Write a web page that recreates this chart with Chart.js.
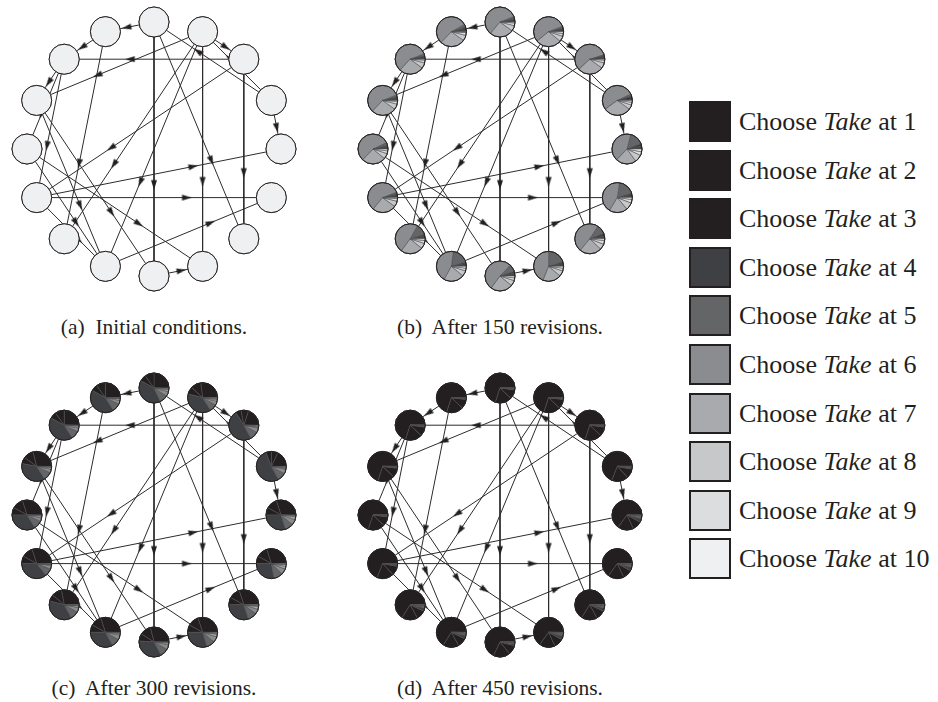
<!DOCTYPE html>
<html>
<head>
<meta charset="utf-8">
<script src="https://cdn.jsdelivr.net/npm/chart.js@4"></script>
<style>
  html, body { margin: 0; padding: 0; background: #fff; }
  #page { position: relative; width: 938px; height: 702px; overflow: hidden;
          font-family: "Liberation Serif", "Times New Roman", serif; color: #231f20; }
  .panel { position: absolute; width: 300px; height: 300px; }
  .cap { position: absolute; width: 346px; text-align: center; font-size: 21.5px;
         line-height: 26px; white-space: pre; }
  .leg { position: absolute; left: 689px; width: 249px; height: 42px; }
  .leg .sw { position: absolute; left: 0; top: 0; width: 38px; height: 37px; border: 2px solid #231f20; }
  .leg .tx { position: absolute; left: 50px; top: 0; height: 41px; line-height: 41px;
             font-size: 26px; white-space: nowrap; }
</style>
</head>
<body>
<div id="page">
  <canvas id="pa" class="panel" width="300" height="300" style="left:4px;top:-1px"></canvas>
  <canvas id="pb" class="panel" width="300" height="300" style="left:350px;top:-1px"></canvas>
  <canvas id="pc" class="panel" width="300" height="300" style="left:4px;top:365px"></canvas>
  <canvas id="pd" class="panel" width="300" height="300" style="left:350px;top:365px"></canvas>
</div>
<script>
// ---- network: 16 players on a ring, directed "who imitates whom" links ----
const playerCount = 16;
const linkFrom = [0, 15, 14, 2, 1, 0, 1, 2, 11, 3, 8, 0, 11, 9, 2, 1, 1, 1, 3, 14, 15, 13, 13, 12, 12, 11, 14, 3];
const linkTo   = [15, 14, 13, 14, 2, 8, 7, 6, 5, 4, 7, 6, 4, 5, 11, 13, 10, 9, 0, 11, 10, 9, 8, 7, 9, 9, 12, 1];

// ---- strategy labels: stage at which the player chooses Take ----
const takeStages = [1, 2, 3, 4, 5, 6, 7, 8, 9, 10];

// ---- strategy mix of every player (percent per stage 1..10) ----
const sharesInitial = [
  [0,0,0,0,0,0,0,0,0,100], [0,0,0,0,0,0,0,0,0,100], [0,0,0,0,0,0,0,0,0,100], [0,0,0,0,0,0,0,0,0,100],
  [0,0,0,0,0,0,0,0,0,100], [0,0,0,0,0,0,0,0,0,100], [0,0,0,0,0,0,0,0,0,100], [0,0,0,0,0,0,0,0,0,100],
  [0,0,0,0,0,0,0,0,0,100], [0,0,0,0,0,0,0,0,0,100], [0,0,0,0,0,0,0,0,0,100], [0,0,0,0,0,0,0,0,0,100],
  [0,0,0,0,0,0,0,0,0,100], [0,0,0,0,0,0,0,0,0,100], [0,0,0,0,0,0,0,0,0,100], [0,0,0,0,0,0,0,0,0,100]
];
const sharesAfter150 = [
  [1,1,1,1,2,58,26,6,3,1],
  [1,1,1,1,2,55,28,6,3,2],
  [1,1,1,1,1,57,28,6,3,1],
  [1,1,2,1,2,53,30,5,3,2],
  [1,1,1,3,15,42,22,8,4,3],
  [1,1,1,2,18,44,20,8,4,2],
  [1,1,1,3,10,48,24,6,4,2],
  [1,1,1,2,20,44,20,6,3,2],
  [1,1,1,2,8,52,24,6,3,2],
  [1,1,1,2,18,44,22,6,3,2],
  [1,1,1,2,12,48,24,6,3,2],
  [1,1,1,1,2,58,26,6,3,1],
  [1,1,1,1,3,56,26,6,3,2],
  [1,1,1,1,2,57,27,6,3,1],
  [1,1,1,1,2,57,27,6,3,1],
  [1,1,1,2,3,55,27,6,3,1]
];
const sharesAfter300 = [
  [25,10,7,40,9,5,2,1,0.5,0.5],
  [27,11,8,38,8,4,2,1,0.5,0.5],
  [20,8,6,49,9,5,1,1,0.5,0.5],
  [18,7,6,52,9,5,1,1,0.5,0.5],
  [30,12,8,30,9,6,3,1,0.5,0.5],
  [30,12,8,28,10,6,3,2,0.5,0.5],
  [30,12,8,30,10,5,3,1,0.5,0.5],
  [30,12,8,30,9,6,3,1,0.5,0.5],
  [29,12,8,34,9,5,2,0.5,0.25,0.25],
  [30,12,8,33,9,5,2,0.5,0.25,0.25],
  [28,11,7,37,9,5,2,0.5,0.25,0.25],
  [30,12,8,36,8,4,1,0.5,0.25,0.25],
  [30,12,8,34,9,4,2,0.5,0.25,0.25],
  [29,11,7,37,9,4,2,0.5,0.25,0.25],
  [25,10,7,42,9,4,2,0.5,0.25,0.25],
  [25,10,7,42,9,4,2,0.5,0.25,0.25]
];
const sharesAfter450 = [
  [70,18,10,1,0.5,0.3,0.1,0.05,0.03,0.02],
  [70,18,10,1,0.5,0.3,0.1,0.05,0.03,0.02],
  [70,18,10,1,0.5,0.3,0.1,0.05,0.03,0.02],
  [69,18,10,1.5,0.8,0.4,0.2,0.05,0.03,0.02],
  [65,17,10,4,2,1,0.6,0.2,0.1,0.1],
  [65,17,10,4,2,1,0.6,0.2,0.1,0.1],
  [66,17,10,3.5,1.8,0.9,0.5,0.1,0.1,0.1],
  [65,17,10,4,2,1,0.6,0.2,0.1,0.1],
  [68,18,10,2,1,0.5,0.3,0.1,0.05,0.05],
  [66,17,10,3.5,1.8,0.9,0.5,0.1,0.1,0.1],
  [66,17,10,3.5,1.8,0.9,0.5,0.1,0.1,0.1],
  [69,18,10,1.5,0.8,0.4,0.2,0.05,0.03,0.02],
  [70,18,10,1,0.5,0.3,0.1,0.05,0.03,0.02],
  [70,18,10,1,0.5,0.3,0.1,0.05,0.03,0.02],
  [70,18,10,1,0.5,0.3,0.1,0.05,0.03,0.02],
  [70,18,10,1,0.5,0.3,0.1,0.05,0.03,0.02]
];

// ---- styling ----
const stageColors = ['#231f20', '#231f20', '#231f20', '#3f4043', '#646567',
                     '#8b8c8f', '#a8aaad', '#c7c8ca', '#dcdddf', '#eff0f1'];
const INK = '#231f20';
const NODE_R = 15;          // node radius in px
const RING_PX = 127;        // ring radius in px
const CANVAS_HALF = 150;    // half size of each panel canvas
const HEAD_AT = 0.66;       // arrow tip position along each link
const SPAN = CANVAS_HALF / RING_PX;

const panels = [
  { id: 'pa', shares: sharesInitial,  caption: '(a)  Initial conditions.',   cx: 154, cy: 327 },
  { id: 'pb', shares: sharesAfter150, caption: '(b)  After 150 revisions.',  cx: 500, cy: 327 },
  { id: 'pc', shares: sharesAfter300, caption: '(c)  After 300 revisions.',  cx: 154, cy: 688 },
  { id: 'pd', shares: sharesAfter450, caption: '(d)  After 450 revisions.',  cx: 500, cy: 688 }
];

// ring layout: player 0 at the top, then clockwise
const ringPos = Array.from({ length: playerCount }, (_, i) => {
  const a = (90 - 360 / playerCount * i) * Math.PI / 180;
  return { x: Math.cos(a), y: Math.sin(a) };
});

function arrowHeadImage() {
  const c = document.createElement('canvas');
  c.width = 24; c.height = 10;
  const g = c.getContext('2d');
  g.fillStyle = INK;
  g.beginPath();
  g.moveTo(12, 5);
  g.lineTo(2.5, 1.9);
  g.lineTo(2.5, 8.1);
  g.closePath();
  g.fill();
  return c;
}
const arrowImg = arrowHeadImage();

function piePlugin(shares) {
  return {
    id: 'nodePies',
    afterDatasetsDraw(chart) {
      const ctx = chart.ctx;
      const meta = chart.getDatasetMeta(0);
      meta.data.forEach((pt, i) => {
        const row = shares[i];
        const total = row.reduce((s, v) => s + v, 0);
        const x = pt.x, y = pt.y;
        ctx.save();
        const full = row.filter(v => v > 0).length === 1;
        if (full) {
          const k = row.findIndex(v => v > 0);
          ctx.beginPath();
          ctx.arc(x, y, NODE_R, 0, Math.PI * 2);
          ctx.fillStyle = stageColors[k];
          ctx.fill();
        } else {
          let a0 = 0;
          row.forEach((v, k) => {
            if (v <= 0) return;
            const a1 = a0 + v / total * Math.PI * 2;
            ctx.beginPath();
            ctx.moveTo(x, y);
            ctx.arc(x, y, NODE_R, -a0, -a1, true);
            ctx.closePath();
            ctx.fillStyle = stageColors[k];
            ctx.fill();
            ctx.lineWidth = 0.6;
            ctx.strokeStyle = '#4d4d4f';
            ctx.stroke();
            a0 = a1;
          });
        }
        ctx.beginPath();
        ctx.arc(x, y, NODE_R, 0, Math.PI * 2);
        ctx.lineWidth = 1;
        ctx.strokeStyle = INK;
        ctx.stroke();
        ctx.restore();
      });
    }
  };
}

function buildPanel(p) {
  const datasets = [];
  // players
  datasets.push({
    type: 'scatter',
    data: ringPos.map(q => ({ x: q.x, y: q.y })),
    pointRadius: NODE_R, pointHoverRadius: NODE_R,
    pointBackgroundColor: stageColors[9], pointBorderColor: INK, pointBorderWidth: 1,
    order: 0
  });
  // arrow heads, placed part way along each link
  const heads = linkFrom.map((f, k) => {
    const t = linkTo[k];
    return { x: ringPos[f].x + HEAD_AT * (ringPos[t].x - ringPos[f].x),
             y: ringPos[f].y + HEAD_AT * (ringPos[t].y - ringPos[f].y) };
  });
  const headRot = linkFrom.map((f, k) => {
    const t = linkTo[k];
    const dx = ringPos[t].x - ringPos[f].x, dy = ringPos[t].y - ringPos[f].y;
    return Math.atan2(-dy, dx) * 180 / Math.PI;
  });
  datasets.push({
    type: 'scatter', data: heads,
    pointStyle: arrowImg, pointRotation: headRot,
    pointRadius: 5, pointHoverRadius: 5, order: 1
  });
  // links
  linkFrom.forEach((f, k) => {
    const t = linkTo[k];
    datasets.push({
      type: 'line',
      data: [{ x: ringPos[f].x, y: ringPos[f].y }, { x: ringPos[t].x, y: ringPos[t].y }],
      borderColor: '#2e2b2c', borderWidth: 1, pointRadius: 0, pointHoverRadius: 0,
      fill: false, tension: 0, order: 2
    });
  });

  new Chart(document.getElementById(p.id), {
    type: 'scatter',
    data: { datasets },
    options: {
      responsive: false, animation: false, devicePixelRatio: 1, events: [],
      layout: { padding: 0, autoPadding: false },
      plugins: { legend: { display: false }, tooltip: { enabled: false }, title: { display: false } },
      scales: {
        x: { type: 'linear', min: -SPAN, max: SPAN, display: false },
        y: { type: 'linear', min: -SPAN, max: SPAN, display: false }
      }
    },
    plugins: [piePlugin(p.shares)]
  });

  const cap = document.createElement('div');
  cap.className = 'cap';
  cap.style.left = (p.cx - 173) + 'px';
  cap.style.top = (p.cy - 13) + 'px';
  cap.textContent = p.caption;
  document.getElementById('page').appendChild(cap);
}

panels.forEach(buildPanel);

// ---- legend ----
takeStages.forEach((s, k) => {
  const row = document.createElement('div');
  row.className = 'leg';
  row.style.top = (101 + k * 48.6) + 'px';
  const sw = document.createElement('div');
  sw.className = 'sw';
  sw.style.background = stageColors[k];
  const tx = document.createElement('div');
  tx.className = 'tx';
  tx.appendChild(document.createTextNode('Choose '));
  const it = document.createElement('i');
  it.textContent = 'Take';
  tx.appendChild(it);
  tx.appendChild(document.createTextNode(' at ' + s));
  row.appendChild(sw);
  row.appendChild(tx);
  document.getElementById('page').appendChild(row);
});
</script>
</body>
</html>
